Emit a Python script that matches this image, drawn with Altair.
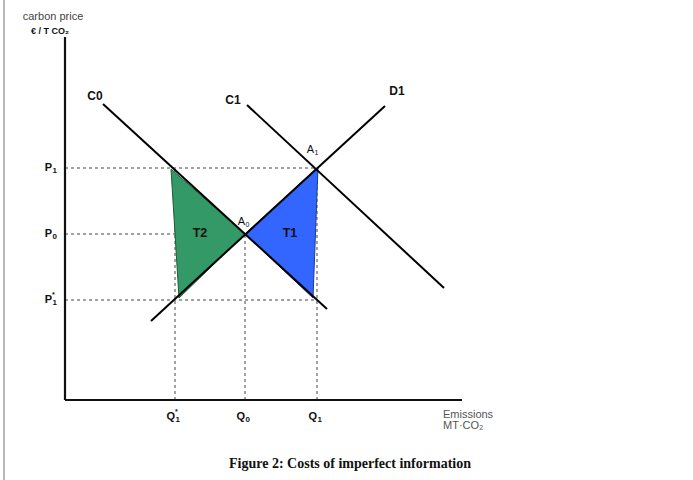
import altair as alt
import pandas as pd

# ---- values (chart units) ----
price_names = ["P", "P", "P"]
price_subs = ["1", "0", "1"]
price_sups = ["", "", "*"]
price_values = [58.0, 41.5, 25.0]
price_dash_end = [63.25, 45.0, 63.0]

qty_names = ["Q", "Q", "Q"]
qty_subs = ["1", "0", "1"]
qty_sups = ["*", "", ""]
qty_values = [27.5, 45.0, 63.0]
qty_dash_top = [58.0, 41.5, 58.0]

curve_names = ["C0", "D1", "C1"]
curve_x1 = [9.5, 21.5, 45.5]
curve_y1 = [74.0, 19.75, 73.75]
curve_x2 = [65.5, 80.0, 94.75]
curve_y2 = [22.75, 73.5, 28.0]
curve_label_x = [7.5, 83.0, 42.0]
curve_label_y = [76.0, 77.25, 75.0]

point_names = ["A", "A"]
point_subs = ["0", "1"]
point_x = [45.0, 62.25]
point_y = [44.5, 62.5]

tri_names = ["T2", "T1"]
tri_label_x = [33.75, 56.25]
tri_label_y = [41.75, 41.75]
t2_x = [26.5, 45.0, 28.5, 26.5]
t2_y = [57.75, 41.5, 25.5, 57.75]
t1_x = [45.0, 63.25, 62.0, 45.0]
t1_y = [41.5, 58.25, 25.5, 41.5]

axis_top = 90.75
axis_right = 99.25

# ---- scales ----
xs = alt.Scale(domain=[0, 100], nice=False, zero=False)
ys = alt.Scale(domain=[0, 90], nice=False, zero=False)
X = lambda f="x": alt.X(f"{f}:Q", scale=xs, axis=None)
Y = lambda f="y": alt.Y(f"{f}:Q", scale=ys, axis=None)

# ---- tables ----
dash_df = pd.DataFrame(
    {"x": [0.0] * 3 + qty_values,
     "x2": price_dash_end + qty_values,
     "y": price_values + [0.0] * 3,
     "y2": price_values + qty_dash_top}
)
curve_df = pd.DataFrame({"x": curve_x1, "y": curve_y1, "x2": curve_x2, "y2": curve_y2})
axes_df = pd.DataFrame({"x": [0.0, 0.0], "y": [0.0, 0.0], "x2": [0.0, axis_right], "y2": [axis_top, 0.0]})

t2_df = pd.DataFrame({"x": t2_x, "y": t2_y, "i": list(range(len(t2_x)))})
t1_df = pd.DataFrame({"x": t1_x, "y": t1_y, "i": list(range(len(t1_x)))})

tick_df = pd.DataFrame({
    "t": price_names + qty_names,
    "sub": price_subs + qty_subs,
    "sup": price_sups + qty_sups,
    "x": [-3.25] * 3 + qty_values,
    "y": price_values + [-4.25] * 3,
})
curve_lab_df = pd.DataFrame({"t": curve_names, "x": curve_label_x, "y": curve_label_y})
point_df = pd.DataFrame({"t": point_names, "sub": point_subs, "x": point_x, "y": point_y})
tri_lab_df = pd.DataFrame({"t": tri_names, "x": tri_label_x, "y": tri_label_y})

# ---- layers ----
border = alt.Chart(pd.DataFrame({"a": [0]})).mark_rule(color="#8a8a8a", strokeWidth=1.2).encode(
    x=alt.value(-61), y=alt.value(-40), y2=alt.value(440)
)

dashes = alt.Chart(dash_df).mark_rule(color="#444444", strokeWidth=1, strokeDash=[3, 3]).encode(
    x=X(), y=Y(), x2="x2:Q", y2="y2:Q"
)

tri2 = alt.Chart(t2_df).mark_line(fill="#339966", stroke="#1f5a3c", strokeWidth=1, interpolate="linear").encode(
    x=X(), y=Y(), order="i:Q"
)
tri1 = alt.Chart(t1_df).mark_line(fill="#3366ff", stroke="#1a3a99", strokeWidth=1, interpolate="linear").encode(
    x=X(), y=Y(), order="i:Q"
)

curves = alt.Chart(curve_df).mark_rule(color="black", strokeWidth=2).encode(
    x=X(), y=Y(), x2="x2:Q", y2="y2:Q"
)
axes = alt.Chart(axes_df).mark_rule(color="#111111", strokeWidth=2.2).encode(
    x=X(), y=Y(), x2="x2:Q", y2="y2:Q"
)

font = "Liberation Sans"
tick_main = alt.Chart(tick_df).mark_text(font=font, fontWeight="bold", fontSize=11, align="right", baseline="middle", color="#111111").encode(
    x=X(), y=Y(), text="t:N"
)
tick_sub = alt.Chart(tick_df).mark_text(font=font, fontWeight="bold", fontSize=8, align="left", baseline="middle", dx=0.5, dy=3, color="#111111").encode(
    x=X(), y=Y(), text="sub:N"
)
tick_sup = alt.Chart(tick_df).mark_text(font=font, fontWeight="bold", fontSize=7, align="left", baseline="middle", dx=0, dy=-5, color="#111111").encode(
    x=X(), y=Y(), text="sup:N"
)

curve_labels = alt.Chart(curve_lab_df).mark_text(font=font, fontWeight="bold", fontSize=12, align="center", baseline="middle", color="#111111").encode(
    x=X(), y=Y(), text="t:N"
)
point_main = alt.Chart(point_df).mark_text(font=font, fontSize=11, align="right", baseline="middle", color="#111111").encode(
    x=X(), y=Y(), text="t:N"
)
point_sub = alt.Chart(point_df).mark_text(font=font, fontSize=7, align="left", baseline="middle", dx=0.5, dy=3, color="#111111").encode(
    x=X(), y=Y(), text="sub:N"
)
tri_labels = alt.Chart(tri_lab_df).mark_text(font=font, fontWeight="bold", fontSize=12.5, align="center", baseline="middle", color="#111111").encode(
    x=X(), y=Y(), text="t:N"
)

ytitle1 = alt.Chart(pd.DataFrame({"t": ["carbon price"], "x": [-3.0], "y": [95.75]})).mark_text(
    font=font, fontSize=11, align="center", baseline="middle", color="#444444"
).encode(x=X(), y=Y(), text="t:N")
ytitle2 = alt.Chart(pd.DataFrame({"t": ["€ / T CO₂"], "x": [-3.75], "y": [92.25]})).mark_text(
    font=font, fontSize=9, fontWeight="bold", align="center", baseline="middle", color="#111111"
).encode(x=X(), y=Y(), text="t:N")

xtitle = alt.Chart(pd.DataFrame({"t": ["Emissions", "MT·CO₂"], "x": [94.5, 94.5], "y": [-3.75, -6.5]})).mark_text(
    font=font, fontSize=11, align="left", baseline="middle", color="#555555"
).encode(x=X(), y=Y(), text="t:N")

caption = alt.Chart(pd.DataFrame({"t": ["Figure 2: Costs of imperfect information"], "x": [71.25], "y": [-16.0]})).mark_text(
    font="Liberation Serif", fontSize=14, fontWeight="bold", align="center", baseline="middle", color="#111111"
).encode(x=X(), y=Y(), text="t:N")

chart = alt.layer(
    border, dashes, tri2, tri1, curves, axes,
    tick_main, tick_sub, tick_sup, curve_labels, point_main, point_sub, tri_labels,
    ytitle1, ytitle2, xtitle, caption,
).properties(
    width=400, height=360,
    padding={"left": 65, "top": 40, "right": 228, "bottom": 80},
    autosize=alt.AutoSizeParams(type="none"),
    background="white",
).configure_view(stroke=None)

chart.save("out.html", embed_options={"renderer": "svg", "actions": False})
